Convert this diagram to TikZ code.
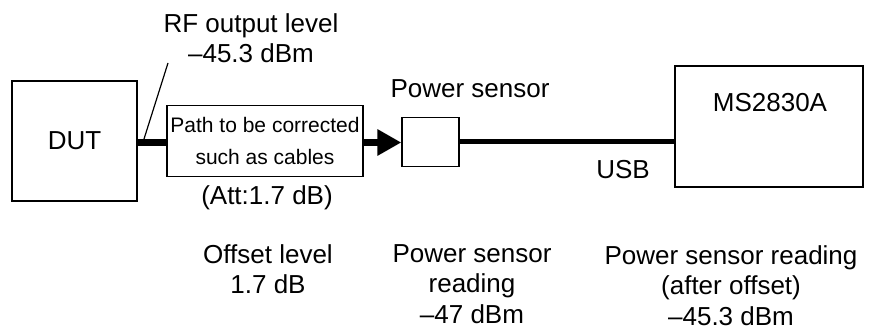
\documentclass[tikz,border=0pt]{standalone}
\usepackage{fontspec}
\setmainfont{Liberation Sans}
\usetikzlibrary{arrows.meta,positioning}

\begin{document}
\begin{tikzpicture}[x=1pt,y=-1pt,
  box/.style={draw,line width=1.3pt,inner sep=0pt,font=\fontsize{26}{30.5}\selectfont},
  txt/.style={inner sep=0pt,align=center,anchor=base,font=\fontsize{26}{30.5}\selectfont},
  cable/.style={line width=7pt},
  usb/.style={line width=5pt}]
  \useasboundingbox (0,0) rectangle (873,331);
  % blocks
  \node[box,minimum width=125pt,minimum height=120pt] (dut) at (74.5,141) {DUT};
  \node[box,minimum width=196pt,minimum height=71pt,align=center,
        font=\fontsize{21}{32}\selectfont] (path) at (265,141) {Path to be corrected\\such as cables};
  \node[box,minimum width=57pt,minimum height=49pt] (sensor) at (430.5,142) {};
  \node[box,minimum width=188pt,minimum height=121pt] (ms) at (769,126.5) {};
  \node[txt] (mstext) at (770,112) {MS2830A};
  % labels (base = last line)
  \node[txt] (rf) at (251,63) {RF output level\\–45.3 dBm};
  \node[txt] (att) at (267,205) {(Att:1.7 dB)};
  \node[txt] (sensortext) at (470,98) {Power sensor};
  \node[txt] (usbtext) at (623,179) {USB};
  \node[txt] (offset) at (268,294) {Offset level\\1.7 dB};
  \node[txt] (reading) at (472,323) {Power sensor\\reading\\–47 dBm};
  \node[txt] (after) at (731,325) {Power sensor reading\\(after offset)\\–45.3 dBm};
  % connections
  \coordinate (dutout) at (dut.east |- 0,142.5);
  \coordinate (pathin) at (path.west |- 0,142.5);
  \coordinate (pathout) at (path.east |- 0,142.5);
  \draw[cable] (dutout) -- (pathin);
  \draw[cable,-{Triangle[length=24pt,width=25pt]}] (pathout) -- (sensor.west |- pathout);
  \draw[usb] (sensor.east) -- (sensor.east -| ms.west);
  \coordinate (lead) at (168,63);
  \coordinate (tap) at (144,139);
  \draw[line width=1.2pt] (lead) -- (tap);
\end{tikzpicture}
\end{document}
